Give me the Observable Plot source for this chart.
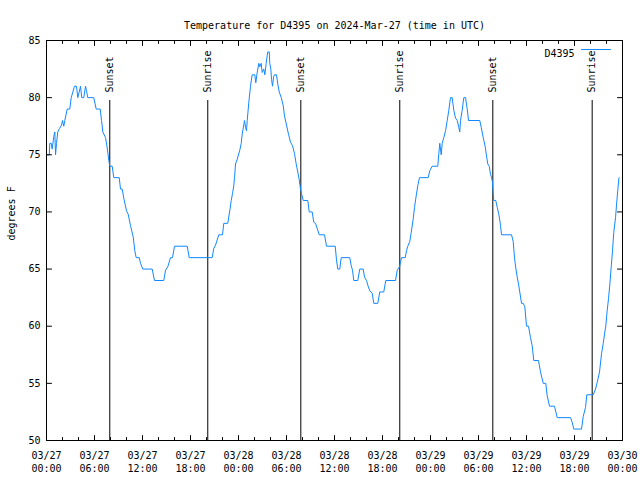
<!DOCTYPE html>
<html><head><meta charset="utf-8">
<script src="https://cdn.jsdelivr.net/npm/d3@7"></script>
<script src="https://cdn.jsdelivr.net/npm/@observablehq/plot@0.6"></script>
<style>html,body{margin:0;padding:0;background:#fff} svg{display:block}</style>
</head><body><div id="chart"></div>
<script>
const title = "Temperature for D4395 on 2024-Mar-27 (time in UTC)";
const seriesName = "D4395";
const yLabel = "degrees F";

// hours since 2024-03-27 00:00 UTC
const hours = [
0,0.35,0.41,0.59,0.71,0.91,1.04,1.13,1.25,1.41,
1.63,1.88,2.0,2.16,2.29,2.59,2.91,3.09,3.5,3.75,
3.91,4.09,4.25,4.41,4.66,4.88,5.0,5.16,5.91,6.21,
6.71,6.88,7.04,7.38,7.59,7.79,7.91,8.21,8.41,9.09,
9.25,9.46,9.66,10.0,10.21,10.5,10.84,11.04,11.21,11.59,
11.75,12.04,13.21,13.5,14.66,14.88,15.16,15.5,15.75,16.0,
17.59,17.84,20.71,20.91,21.13,21.54,22.0,22.16,22.66,22.91,
23.09,23.25,23.41,23.5,23.63,23.84,24.16,24.34,24.46,24.66,
24.75,24.88,25.0,25.09,25.29,25.5,25.71,26.04,26.16,26.34,
26.54,26.66,26.84,26.96,27.16,27.29,27.46,27.59,27.66,27.84,
27.91,28.04,28.13,28.25,28.38,28.5,28.75,28.91,29.09,29.34,
29.59,29.75,30.0,30.25,30.5,30.75,31.0,31.21,31.41,31.59,
31.75,31.88,32.09,32.66,32.84,33.21,33.41,33.63,33.91,34.09,
34.75,35.0,36.09,36.25,36.41,36.66,36.84,37.91,38.09,38.25,
38.41,38.91,39.16,39.59,39.75,40.0,40.16,40.41,40.71,40.91,
41.41,41.66,42.16,42.41,43.63,43.84,44.13,44.38,44.84,45.0,
45.16,45.41,45.59,45.84,46.0,46.21,46.41,46.63,47.71,47.91,
48.21,48.91,49.04,49.16,49.34,49.46,49.66,49.88,50.09,50.29,
50.5,50.71,50.91,51.13,51.34,51.54,51.66,51.75,51.96,52.16,
52.38,52.59,52.75,54.16,54.34,54.59,54.84,55.0,55.16,55.34,
55.5,55.63,55.75,55.84,55.91,56.16,56.34,56.54,56.66,56.75,
56.88,58.13,58.34,58.5,58.66,58.84,59.0,59.16,59.38,59.59,
59.79,60.0,60.25,60.5,60.71,60.91,61.5,61.75,62.09,62.41,
62.59,62.88,63.5,63.84,65.5,65.71,65.91,66.88,67.09,67.38,
67.54,68.34,68.63,68.84,69.13,69.38,69.59,69.79,69.91,70.09,
70.25,70.41,70.59,70.75,70.91,71.13,71.25,71.41,71.54,71.59
];
const tempsF = [
75,75,76,76,75.5,76.6,77,75,76,77,
77.3,77.6,78,77.5,78,79,79,80,81,81,
80,80.5,81,80,80,81,80.6,80,80,79,
79,78,77,76.5,75.6,74.5,74,74,73,73,
72,72,71.2,70.1,69.8,68.8,67.8,66.6,66,66,
65.5,65,65,64,64,64.9,65.2,66,66,67,
67,66,66,66.8,67.1,68,68,69,69,70.1,
71,71.6,72.3,73,74.2,74.6,75.4,76,76.8,77.6,
78,77.4,77.1,78,79.6,81,82,82,81.3,82.2,
83,82.7,83,82.2,82.5,82,83,83.7,84,84,
83,82.5,81.6,81,81.8,82,82,81.2,80.5,80,
79.3,78.4,77.6,76.8,76.1,75.8,75.1,74.2,73.5,72.8,
72,71.6,71,71,70,70,69.1,69,68.4,68,
68,67,67,65.8,65,65,66,66,65.3,64.9,
64,64,65,65,64.3,64,63.6,63.1,62.9,62,
62,63,63,64,64,64.9,65.2,66,66,66.6,
67,67.4,68.2,69.4,70.4,71.4,72.3,73,73,73.6,
74,74,75.1,76,75,76,76.5,77.1,78,78.9,
80,80,78.9,78.2,78,77.4,77,78,78.9,80,
80,79,78,78,77.4,76.5,75.7,74.9,74.2,74,
73.3,73,72.6,71.6,71,71,70.4,69.8,69.3,68.8,
68,68,67.4,66,65.1,64.3,63.7,63,62,62,
61.7,60,60,59,58.3,57,57,56,55,55,
53.9,53,53,52,52,51.6,51,51,52.1,52.9,
54,54,54.5,55.1,56,57.6,58.5,59.5,60,61.4,
62.4,63.6,65.2,66.6,68.2,69.5,70.6,71.9,72.9,73
];

const sunHours = [7.91, 20.16, 31.79, 44.16, 55.79, 68.21];
const sunLabels = ["Sunset", "Sunrise", "Sunset", "Sunrise", "Sunset", "Sunrise"];

const xTickHours = [0, 6, 12, 18, 24, 30, 36, 42, 48, 54, 60, 66, 72];
const xMinorHours = [2, 4, 8, 10, 14, 16, 20, 22, 26, 28, 32, 34, 38, 40, 44, 46, 50, 52, 56, 58, 62, 64, 68, 70];
const yTicks = [50, 55, 60, 65, 70, 75, 80, 85];
const yDomain = [50, 85];

const t0 = Date.UTC(2024, 2, 27);
const toDate = h => new Date(t0 + h * 3600e3);
const data = hours.map((h, i) => ({time: toDate(h), temp: tempsF[i]}));
const sunEvents = sunHours.map((h, i) => ({time: toDate(h), label: sunLabels[i]}));
const majors = xTickHours.map(toDate);
const minors = xMinorHours.map(toDate);
const fmt = d3.utcFormat("%m/%d\n%H:%M");
const frac = f => yDomain[0] + f * (yDomain[1] - yDomain[0]);

const mono = "'DejaVu Sans Mono', 'Liberation Mono', monospace";
const lineColor = "#1188ff";
const tickShape = {draw(ctx, l) { ctx.moveTo(0, 0); ctx.lineTo(0, -l); }};
const tick = (d, opts) => Plot.vector(d, {anchor: "start", shape: tickShape, stroke: "#000", strokeWidth: 1, ...opts});

const chart = Plot.plot({
  width: 640, height: 480,
  marginLeft: 46, marginRight: 18, marginTop: 40, marginBottom: 40,
  style: {fontFamily: mono, fontSize: "10px", background: "#fff", color: "#000"},
  x: {type: "utc", domain: [toDate(0), toDate(72)], axis: null},
  y: {domain: yDomain, axis: null},
  marks: [
    Plot.ruleX(sunEvents, {x: "time", y1: yDomain[0], y2: frac(0.85), stroke: "#000", strokeWidth: 1}),
    Plot.text(sunEvents, {x: "time", y: frac(0.87), text: "label", rotate: -90, textAnchor: "start", fontFamily: mono, fontSize: 10, fill: "#000"}),
    Plot.line(data, {x: "time", y: "temp", stroke: lineColor, strokeWidth: 1}),
    Plot.frame({stroke: "#000", strokeWidth: 1}),
    // x ticks bottom & top
    tick(majors, {x: d => d, frameAnchor: "bottom", length: 5, rotate: 0}),
    tick(minors, {x: d => d, frameAnchor: "bottom", length: 3, rotate: 0}),
    tick(majors, {x: d => d, frameAnchor: "top", length: 5, rotate: 180}),
    tick(minors, {x: d => d, frameAnchor: "top", length: 3, rotate: 180}),
    // y ticks left & right
    tick(yTicks, {y: d => d, frameAnchor: "left", length: 5, rotate: 90}),
    tick(yTicks, {y: d => d, frameAnchor: "right", length: 5, rotate: -90}),
    // tick labels
    Plot.text(majors, {x: d => d, text: d => fmt(d), frameAnchor: "bottom", lineAnchor: "top", dy: 9, lineHeight: 1.3, fontFamily: mono, fontSize: 10, fill: "#000"}),
    Plot.text(yTicks, {y: d => d, text: d => String(d), frameAnchor: "left", textAnchor: "end", dx: -6, fontFamily: mono, fontSize: 10, fill: "#000"}),
    // axis label
    Plot.text([yLabel], {text: d => d, frameAnchor: "left", rotate: -90, dx: -35, fontFamily: mono, fontSize: 10, fill: "#000"}),
    // title
    Plot.text([title], {text: d => d, frameAnchor: "top", dy: -19, fontFamily: mono, fontSize: 10, fill: "#000"}),
    // legend
    Plot.text([seriesName], {text: d => d, frameAnchor: "top-right", textAnchor: "end", dx: -48, dy: 9, fontFamily: mono, fontSize: 10, fill: "#000"}),
    Plot.vector([seriesName], {frameAnchor: "top-right", dx: -12, dy: 9, length: 29, rotate: -90, anchor: "start", shape: tickShape, stroke: lineColor, strokeWidth: 1})
  ]
});
document.getElementById("chart").appendChild(chart);
</script>
</body></html>
